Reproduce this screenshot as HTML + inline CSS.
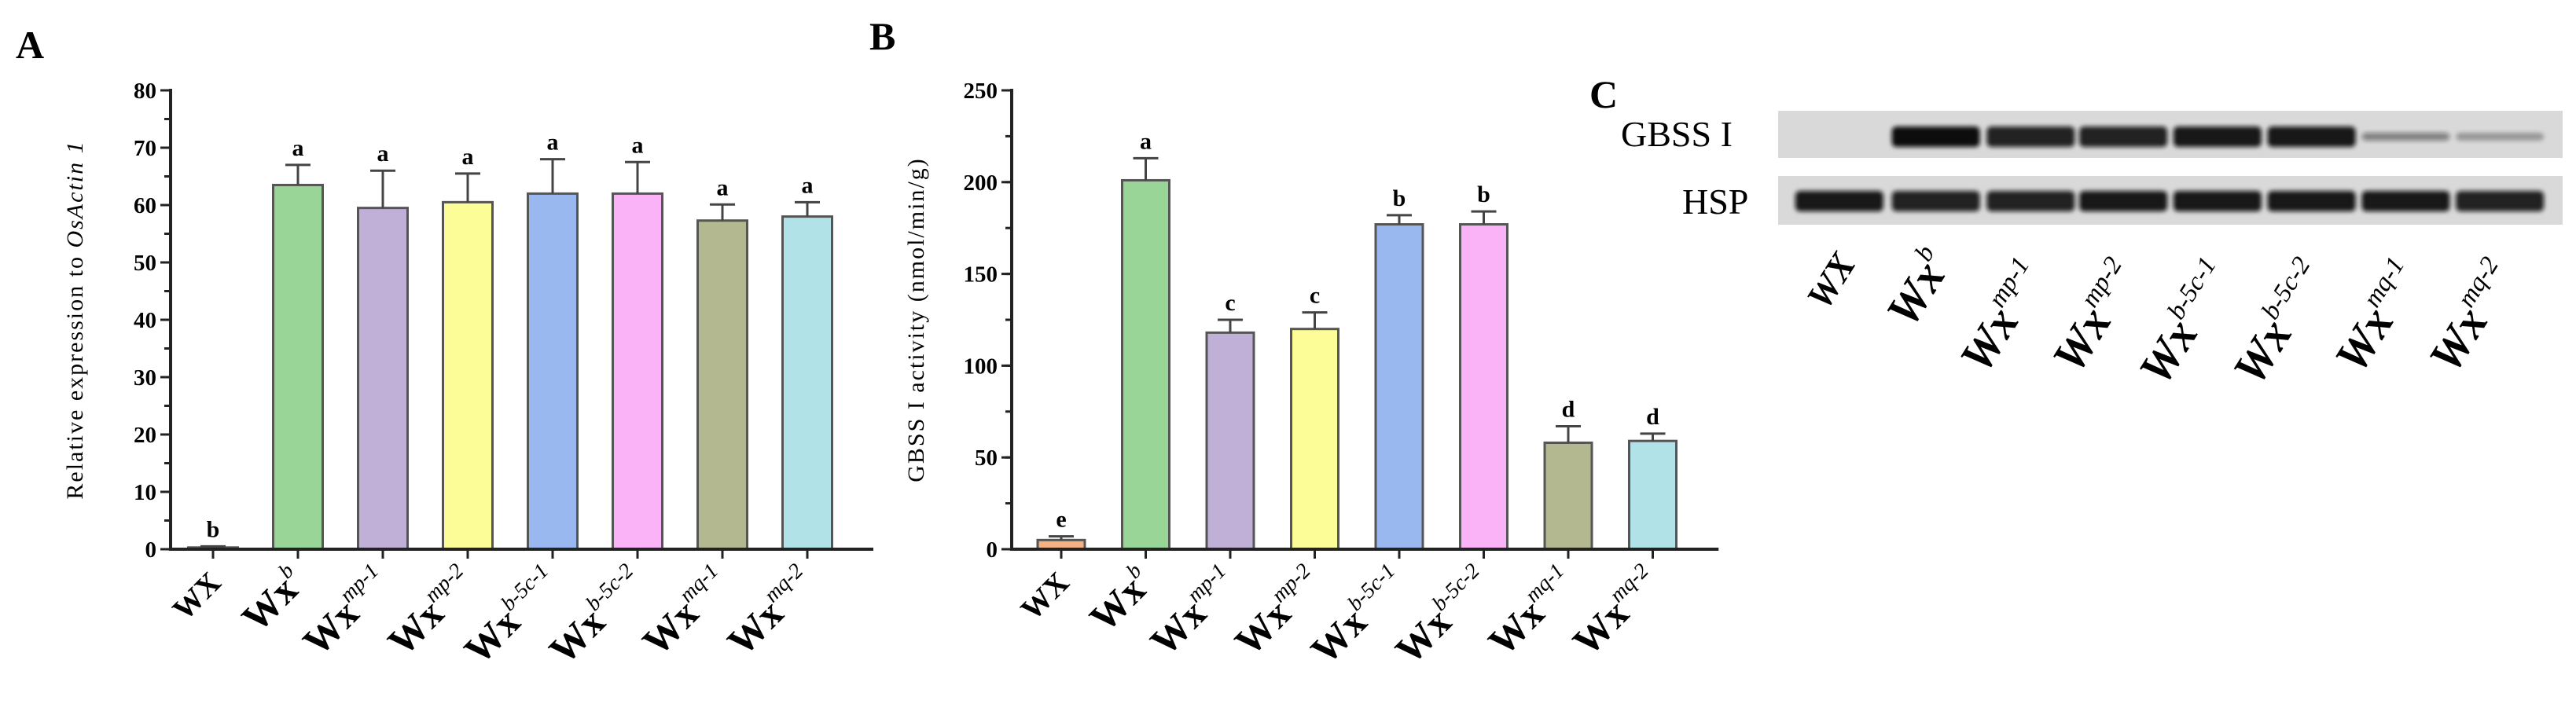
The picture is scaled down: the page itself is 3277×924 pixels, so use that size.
<!DOCTYPE html>
<html><head><meta charset="utf-8"><style>
html,body{margin:0;padding:0;background:#fff;}
svg{display:block;font-family:"Liberation Serif",serif;}
</style></head><body>
<svg id="fig" width="3277" height="924" viewBox="0 0 3277 924" xmlns="http://www.w3.org/2000/svg">
<defs><filter id="blur" x="-10%" y="-50%" width="120%" height="200%"><feGaussianBlur stdDeviation="3"/></filter></defs>
<text x="20" y="74" font-size="50" font-weight="bold">A</text>
<text x="1106" y="63" font-size="50" font-weight="bold">B</text>
<text x="2022" y="137" font-size="50" font-weight="bold">C</text>
<g id="chartA"></g>
<g id="chartB"></g>
<g id="blot"></g>
</svg>
<script>
const genotypes = ["wx","b","mp-1","mp-2","b-5c-1","b-5c-2","mq-1","mq-2"];
const colors = ["#f4b183","#98d597","#c0b0d8","#fdfd98","#9ab8f0","#fbb3f8","#b3b890","#b0e2e8"];
const valuesA = [0.3,63.5,59.5,60.5,62,62,57.3,58];
const errorsA = [0.2,3.5,6.5,5,6,5.5,2.8,2.5];
const lettersA = ["b","a","a","a","a","a","a","a"];
const ticksA = [0,10,20,30,40,50,60,70,80];
const valuesB = [5,201,118,120,177,177,58,59];
const errorsB = [2,12,7,9,5,7,9,4];
const lettersB = ["e","a","c","c","b","b","d","d"];
const ticksB = [0,50,100,150,200,250];
const gbssIntensity = [0,1,0.9,0.9,0.95,0.95,0.45,0.3];
const hspIntensity = [0.95,0.9,0.9,0.95,0.95,0.95,0.95,0.9];

const NS="http://www.w3.org/2000/svg";
function mk(tag,attrs,parent){const e=document.createElementNS(NS,tag);for(const k in attrs)e.setAttribute(k,attrs[k]);parent.appendChild(e);return e;}

function label(parent,i,x,y,rot,fs,italic){
  const t=mk("text",{x:x,y:y,"text-anchor":"end","font-weight":"bold","font-size":fs,transform:`rotate(${rot} ${x} ${y})`},parent);
  
  
  if(italic)t.setAttribute("font-style","italic");
  if(i===0){t.textContent="WX";t.setAttribute("font-size",fs*0.78);return;}
  const a=mk("tspan",{},t);a.textContent="Wx";
  const s=mk("tspan",{"font-size":fs*0.55,"font-style":"italic","dy":-fs*0.45,"font-weight":"normal"},t);s.textContent=genotypes[i];
}

function chart(gid,axisX,x0,step,barW,yMax,values,errors,letters,ticks,minorStep,title,name){
  const g=document.getElementById(gid);
  const y0=699, yTop=115;
  const ys=v=>y0-(v/yMax)*(y0-yTop);
  const xs=i=>x0+i*step;
  const endX=xs(7)+step*0.5+30;
  values.forEach((v,i)=>{
    const r=mk("rect",{x:xs(i)-barW/2,y:ys(v),width:barW,height:y0-ys(v),fill:colors[i],stroke:"#555",["stroke-width"]:3},g);
    
    
    const top=ys(v+errors[i]);
    const e=mk("path",{d:`M${xs(i)} ${ys(v)}V${top}M${xs(i)-16} ${top}H${xs(i)+16}`,stroke:"#444","stroke-width":3,fill:"none"},g);
    
    
    const l=mk("text",{x:xs(i),y:top-12,"text-anchor":"middle","font-size":30,"font-weight":"bold"},g);
    
    
    l.textContent=letters[i];
  });
  const ax=mk("path",{d:`M${axisX} ${yTop-2}V${y0}H${endX}`,stroke:"#222","stroke-width":4,fill:"none"},g);
  
  
  for(let v=0;v<=yMax;v+=minorStep){
    mk("line",{x1:axisX-8,x2:axisX,y1:ys(v),y2:ys(v),stroke:"#222","stroke-width":3},g);
  }
  ticks.forEach(v=>{
    mk("line",{x1:axisX-13,x2:axisX,y1:ys(v),y2:ys(v),stroke:"#222","stroke-width":3},g);
    const t=mk("text",{x:axisX-18,y:ys(v)+10,"text-anchor":"end","font-size":29,"font-weight":"bold"},g);
    
    
    t.textContent=v;
  });
  values.forEach((v,i)=>{
    mk("line",{x1:xs(i),x2:xs(i),y1:y0,y2:y0+12,stroke:"#222","stroke-width":3},g);
    label(g,i,xs(i)+12,y0+45,-45,50,false);
  });
  const ty=(y0+yTop)/2, tx=axisX-112;
  const tt=mk("text",{x:tx,y:ty,"text-anchor":"middle","font-size":30,"letter-spacing":"2",transform:`rotate(-90 ${tx} ${ty})`},g);
  
  
  tt.innerHTML=title;
}
chart("chartA",217,271,108,63,80,valuesA,errorsA,lettersA,ticksA,5,'Relative expression to <tspan font-style="italic">OsActin 1</tspan>',"y-axis-title-a");
chart("chartB",1287,1350,107.5,60,250,valuesB,errorsB,lettersB,ticksB,25,'GBSS I activity (nmol/min/g)',"y-axis-title-b");

(function(){
  const g=document.getElementById("blot");
  const sx=2262, sw=998;
  const lane=i=>sx+[0.078,0.201,0.322,0.44,0.56,0.68,0.80,0.92][i]*sw;
  const s1=mk("rect",{x:sx,y:141,width:sw,height:60,fill:"#d9d9d9"},g);
  
  
  const s2=mk("rect",{x:sx,y:224,width:sw,height:62,fill:"#d9d9d9"},g);
  
  
  const l1=mk("text",{x:2062,y:186,"font-size":46},g);l1.textContent="GBSS I";
  
  
  const l2=mk("text",{x:2140,y:272,"font-size":46},g);l2.textContent="HSP";
  
  
  gbssIntensity.forEach((v,i)=>{
    if(v<=0)return;
    const h=v>0.5?26:10;
    const b=mk("rect",{x:lane(i)-56,y:174-h/2,width:112,height:h,rx:6,fill:"#111","fill-opacity":v,filter:"url(#blur)"},g);
    
    
  });
  hspIntensity.forEach((v,i)=>{
    const b=mk("rect",{x:lane(i)-56,y:243,width:112,height:26,rx:6,fill:"#111","fill-opacity":v,filter:"url(#blur)"},g);
    
    
  });
  genotypes.forEach((n,i)=>{
    label(g,i,lane(i)+22,i<2?335:350,-58,60,true);
  });
})();
</script>
</body></html>
